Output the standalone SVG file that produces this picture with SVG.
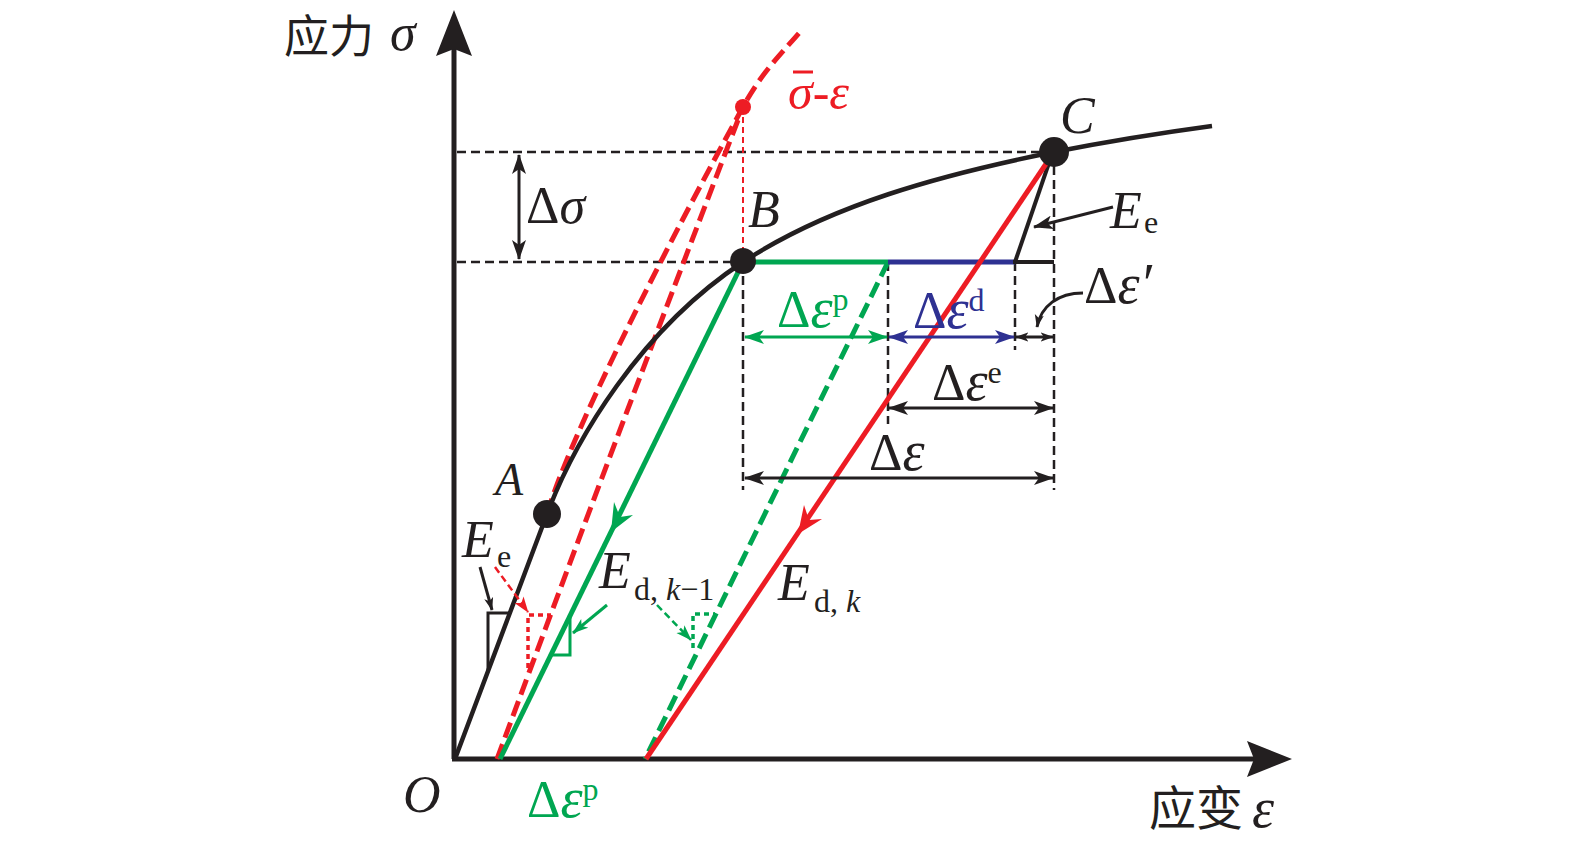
<svg xmlns="http://www.w3.org/2000/svg" width="1575" height="843" viewBox="0 0 1575 843">
<style>
.ax{stroke:#231f20;stroke-width:5;fill:none}
.crv{stroke:#231f20;stroke-width:4.5;fill:none}
.dsh{stroke:#231f20;stroke-width:2.5;stroke-dasharray:9 5;fill:none}
.rd{stroke:#ed1c24;stroke-width:5;stroke-dasharray:16 7;fill:none}
.gd{stroke:#00a651;stroke-width:5;stroke-dasharray:16 7;fill:none}
.rs{stroke:#ed1c24;stroke-width:5;fill:none}
.gs{stroke:#00a651;stroke-width:5;fill:none}
.bs{stroke:#2e3192;stroke-width:5;fill:none}
.dimk{stroke:#231f20;stroke-width:3;fill:none}
.dimg{stroke:#00a651;stroke-width:3;fill:none}
.dimb{stroke:#2e3192;stroke-width:3;fill:none}
.t{font-family:"Liberation Serif","Times New Roman",serif;fill:#231f20}
.it{font-style:italic}
.big{font-size:52px}
.lab{font-size:52px}
.eps{font-size:56px}
.sub{font-size:32px}
.cjk{font-family:"Noto Sans CJK SC","Noto Sans CJK JP",sans-serif;font-size:47px;fill:#231f20}
.red{fill:#ed1c24}
.grn{fill:#00a651}
.blu{fill:#2e3192}
</style>
<defs>
<marker id="mk" viewBox="0 0 20 14" refX="19" refY="7" markerWidth="20" markerHeight="14" markerUnits="userSpaceOnUse" orient="auto-start-reverse"><path d="M0,0 L20,7 L0,14 L5,7 z" fill="#231f20"/></marker>
<marker id="mg" viewBox="0 0 20 14" refX="19" refY="7" markerWidth="20" markerHeight="14" markerUnits="userSpaceOnUse" orient="auto-start-reverse"><path d="M0,0 L20,7 L0,14 L5,7 z" fill="#00a651"/></marker>
<marker id="mb" viewBox="0 0 20 14" refX="19" refY="7" markerWidth="20" markerHeight="14" markerUnits="userSpaceOnUse" orient="auto-start-reverse"><path d="M0,0 L20,7 L0,14 L5,7 z" fill="#2e3192"/></marker>
<marker id="mr" viewBox="0 0 20 14" refX="19" refY="7" markerWidth="16" markerHeight="12" markerUnits="userSpaceOnUse" orient="auto-start-reverse"><path d="M0,0 L20,7 L0,14 L5,7 z" fill="#ed1c24"/></marker>
<marker id="mks" viewBox="0 0 20 14" refX="19" refY="7" markerWidth="13" markerHeight="10" markerUnits="userSpaceOnUse" orient="auto-start-reverse"><path d="M0,0 L20,7 L0,14 L5,7 z" fill="#231f20"/></marker>
<marker id="mgs" viewBox="0 0 20 14" refX="19" refY="7" markerWidth="16" markerHeight="12" markerUnits="userSpaceOnUse" orient="auto-start-reverse"><path d="M0,0 L20,7 L0,14 L5,7 z" fill="#00a651"/></marker>
</defs>

<g id="axes">
<line class="ax" x1="454" y1="759" x2="454" y2="40"/>
<polygon points="454,10 472,56 454,49 436,56" fill="#231f20"/>
<line class="ax" x1="452" y1="759" x2="1265" y2="759"/>
<polygon points="1292,759 1247,777 1254,759 1247,741" fill="#231f20"/>
<text class="cjk" x="284" y="53" font-size="45" style="font-size:45px">应力</text>
<text class="t it" x="390" y="50" font-size="52">σ</text>
<text class="cjk" x="1149" y="825">应变</text>
<text class="t it" x="1252" y="827" font-size="56">ε</text>
<text class="t it big" x="403" y="812">O</text>
</g>

<g id="guides">
<line class="dsh" x1="457" y1="152" x2="1054" y2="152"/>
<line class="dsh" x1="457" y1="262" x2="743" y2="262"/>
<line class="dsh" x1="743" y1="262" x2="743" y2="490"/>
<line class="dsh" x1="888" y1="262" x2="888" y2="424"/>
<line class="dsh" x1="1015" y1="262" x2="1015" y2="350"/>
<line class="dsh" x1="1054" y1="152" x2="1054" y2="490"/>
<line x1="743" y1="107" x2="743" y2="262" stroke="#ed1c24" stroke-width="2" stroke-dasharray="6 4"/>
</g>

<g id="connectors">
<path class="rd" d="M497,759 Q615,440 743,107"/>
<path class="rd" d="M547,514 C572,430 670,240 743,107 C762,72 780,55 800,32"/>
<line class="gs" x1="743" y1="262" x2="500" y2="759"/>
<polygon points="611,532 633,515 620,517 614,502" fill="#00a651"/>
<line class="gd" x1="888" y1="262" x2="645" y2="759"/>
<line class="gs" x1="743" y1="262" x2="888" y2="262"/>
<line class="bs" x1="888" y1="262" x2="1015" y2="262"/>
<line x1="1013" y1="262" x2="1054" y2="262" stroke="#231f20" stroke-width="4"/>
<line x1="1015" y1="262" x2="1050" y2="160" stroke="#231f20" stroke-width="4"/>
<line class="rs" x1="1052" y1="155" x2="646" y2="759"/>
<polygon points="798,534 822,519 809,520 804,505" fill="#ed1c24"/>
<path class="crv" d="M455,759 L547,514 C575,440 640,330 743,262 C830,205 940,175 1054,152 C1110,141 1160,133 1212,126"/>
<line class="dimk" x1="519" y1="155" x2="519" y2="259" marker-start="url(#mk)" marker-end="url(#mk)"/>
<line class="dimg" x1="745" y1="337" x2="887" y2="337" marker-start="url(#mg)" marker-end="url(#mg)"/>
<line class="dimb" x1="889" y1="337" x2="1014" y2="337" marker-start="url(#mb)" marker-end="url(#mb)"/>
<line class="dimk" x1="1016" y1="337" x2="1053" y2="337" stroke-width="2.5" marker-start="url(#mks)" marker-end="url(#mks)"/>
<line class="dimk" x1="889" y1="408" x2="1053" y2="408" marker-start="url(#mk)" marker-end="url(#mk)"/>
<line class="dimk" x1="745" y1="478" x2="1053" y2="478" marker-start="url(#mk)" marker-end="url(#mk)"/>
<path class="dimk" stroke-width="2.5" d="M1083,293 C1058,293 1041,306 1037,327" marker-end="url(#mks)"/>
<line class="dimk" x1="1113" y1="207" x2="1034" y2="227" stroke-width="2.5" marker-end="url(#mk)"/>
<line class="dimk" x1="480" y1="567" x2="492" y2="610" stroke-width="2.5" marker-end="url(#mks)"/>
<line x1="495" y1="567" x2="528" y2="612" stroke="#ed1c24" stroke-width="2.5" stroke-dasharray="7 4" marker-end="url(#mr)"/>
<line class="dimg" x1="607" y1="605" x2="573" y2="633" stroke-width="2.5" marker-end="url(#mgs)"/>
<line x1="657" y1="605" x2="691" y2="640" stroke="#00a651" stroke-width="2.5" stroke-dasharray="7 4" marker-end="url(#mgs)"/>
<path d="M488,671 L488,613 L510,613" fill="none" stroke="#231f20" stroke-width="3"/>
<path d="M528,668 L528,615 L551,615" fill="none" stroke="#ed1c24" stroke-width="3.5" stroke-dasharray="5 4"/>
<path d="M570,616 L570,655 L551,655" fill="none" stroke="#00a651" stroke-width="3"/>
<path d="M693,648 L693,614 L715,614" fill="none" stroke="#00a651" stroke-width="3.5" stroke-dasharray="5 4"/>
</g>

<g id="nodeA"><circle cx="547" cy="514" r="14" fill="#231f20"/><text class="t it" x="495" y="495" font-size="46">A</text></g>
<g id="nodeB"><circle cx="743" cy="261" r="13" fill="#231f20"/><text class="t it big" x="748" y="227">B</text></g>
<g id="nodeC"><circle cx="1054" cy="152" r="15" fill="#231f20"/><text class="t it big" x="1060" y="133">C</text></g>
<g id="nodeSig"><circle cx="743" cy="107" r="8" fill="#ed1c24"/>
<line x1="793" y1="72" x2="813" y2="72" stroke="#ed1c24" stroke-width="3"/>
<text class="t red" x="788" y="109" font-size="50"><tspan class="it">σ</tspan>-<tspan class="it">ε</tspan></text></g>

<g id="labels">
<text class="t lab" x="526" y="223">Δ<tspan class="it">σ</tspan></text>
<text class="t lab grn" x="777" y="327">Δ<tspan class="it eps">ε</tspan><tspan class="sub" dy="-17">p</tspan></text>
<text class="t lab blu" x="913" y="328">Δ<tspan class="it eps">ε</tspan><tspan class="sub" dy="-17">d</tspan></text>
<text class="t lab" x="932" y="400">Δ<tspan class="it eps">ε</tspan><tspan class="sub" dy="-17">e</tspan></text>
<text class="t lab" x="869" y="470">Δ<tspan class="it eps">ε</tspan></text>
<text class="t lab" x="1084" y="303">Δ<tspan class="it eps">ε′</tspan></text>
<text class="t lab grn" x="527" y="817">Δ<tspan class="it eps">ε</tspan><tspan class="sub" dy="-17">p</tspan></text>
<text class="t it big" x="1110" y="228">E</text><text class="t sub" x="1144" y="233">e</text>
<text class="t it big" x="462" y="557">E</text><text class="t sub" x="497" y="567">e</text>
<text class="t it big" x="599" y="588">E</text><text class="t sub" x="634" y="600">d, <tspan class="it">k</tspan>−1</text>
<text class="t it big" x="778" y="600">E</text><text class="t sub" x="814" y="612">d, <tspan class="it">k</tspan></text>
</g>
</svg>
